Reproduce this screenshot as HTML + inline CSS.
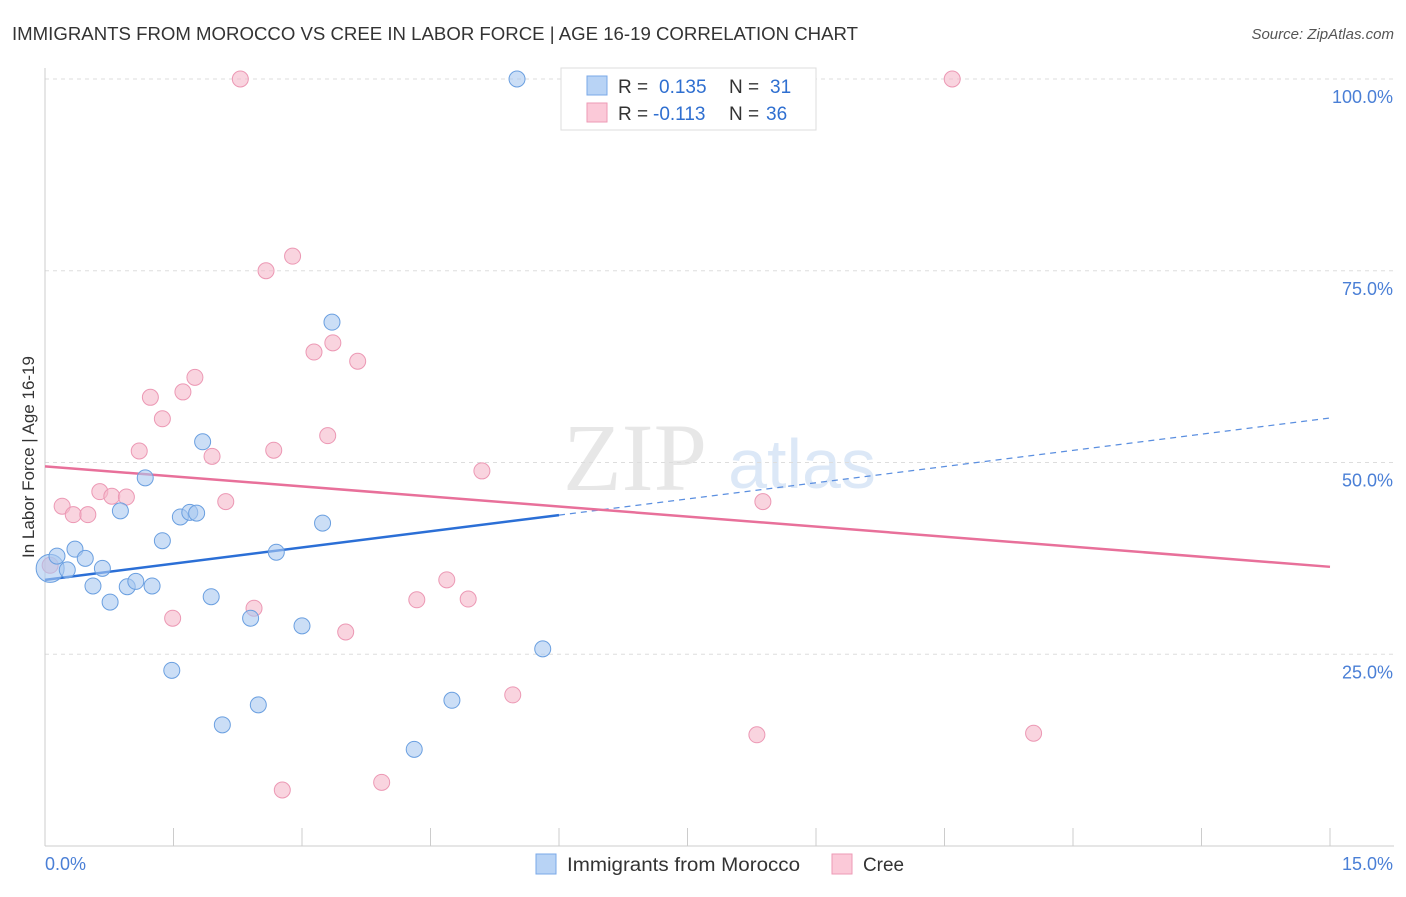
<!DOCTYPE html>
<html><head><meta charset="utf-8"><style>
body{margin:0;background:#fff;font-family:"Liberation Sans",sans-serif;}
</style></head><body>
<svg id="chart" width="1406" height="892" xmlns="http://www.w3.org/2000/svg" font-family="Liberation Sans, sans-serif">
<text x="12" y="40" font-size="18" fill="#333" textLength="846" lengthAdjust="spacingAndGlyphs">IMMIGRANTS FROM MOROCCO VS CREE IN LABOR FORCE | AGE 16-19 CORRELATION CHART</text>
<text x="1394" y="39" font-size="15" fill="#555" font-style="italic" text-anchor="end">Source: ZipAtlas.com</text>
<text transform="translate(34,457) rotate(-90)" font-size="17" fill="#333" text-anchor="middle">In Labor Force | Age 16-19</text>
<g opacity="0.35">
<text x="635" y="490" font-size="96" font-family="Liberation Serif, serif" fill="#bbb" text-anchor="middle">ZIP</text>
<text x="802" y="488" font-size="70" fill="#9cc0ea" text-anchor="middle">atlas</text>
</g>
<g id="grid"></g><g id="axes"></g><g id="trends"></g><g id="points"></g>
<g>
<rect x="561" y="68" width="255" height="62" fill="#fff" stroke="#ddd"/>
<rect x="587" y="76" width="20" height="19" fill="#b8d3f5" stroke="#7aa8e8"/>
<rect x="587" y="103" width="20" height="19" fill="#fbc9d8" stroke="#ee9ab6"/>
<text x="618" y="93" font-size="19" fill="#333">R =</text>
<text x="659" y="93" font-size="19" fill="#2f6fd0">0.135</text>
<text x="729" y="93" font-size="19" fill="#333">N =</text>
<text x="770" y="93" font-size="19" fill="#2f6fd0">31</text>
<text x="618" y="120" font-size="19" fill="#333">R =</text>
<text x="653" y="120" font-size="19" fill="#2f6fd0">-0.113</text>
<text x="729" y="120" font-size="19" fill="#333">N =</text>
<text x="766" y="120" font-size="19" fill="#2f6fd0">36</text>
</g>
<g>
<rect x="536" y="854" width="20" height="20" fill="#b8d3f5" stroke="#7aa8e8"/>
<text x="567" y="871" font-size="19" fill="#333" textLength="233" lengthAdjust="spacingAndGlyphs">Immigrants from Morocco</text>
<rect x="832" y="854" width="20" height="20" fill="#fbc9d8" stroke="#ee9ab6"/>
<text x="863" y="871" font-size="19" fill="#333" textLength="41" lengthAdjust="spacingAndGlyphs">Cree</text>
</g>
</svg>
<script>
const blueX=[0.06,0.14,0.26,0.35,0.47,0.56,0.67,0.76,0.88,0.96,1.06,1.17,1.25,1.37,1.48,1.58,1.69,1.77,1.84,1.94,2.07,2.40,2.49,2.70,3.00,3.24,3.35,4.31,4.75,5.51,5.81];
const blueY=[36.2,37.8,36.0,38.7,37.5,33.9,36.2,31.8,43.7,33.8,34.5,48.0,33.9,39.8,22.9,42.9,43.5,43.4,52.7,32.5,15.8,29.7,18.4,38.3,28.7,42.1,68.3,12.6,19.0,100,25.7];
const pinkX=[0.06,0.20,0.33,0.50,0.64,0.78,0.95,1.10,1.23,1.37,1.49,1.61,1.75,1.95,2.11,2.28,2.44,2.58,2.67,2.77,2.89,3.14,3.30,3.36,3.51,3.65,3.93,4.34,4.69,4.94,5.10,5.46,8.31,8.38,10.59,11.54];
const pinkY=[36.6,44.3,43.2,43.2,46.2,45.6,45.5,51.5,58.5,55.7,29.7,59.2,61.1,50.8,44.9,100,31.0,75.0,51.6,7.3,76.9,64.4,53.5,65.6,27.9,63.2,8.3,32.1,34.7,32.2,48.9,19.7,14.5,44.9,100,14.7];
const blueTrend=[34.7,55.8];
const pinkTrend=[49.5,36.4];
const yTicks=[25,50,75,100];
const yTickLabels=["25.0%","50.0%","75.0%","100.0%"];
const ns="http://www.w3.org/2000/svg";
const sx=v=>45+v/15*1285, sy=v=>846-v/100*767;
function mk(p,t,a){const e=document.createElementNS(ns,t);for(const k in a)e.setAttribute(k,a[k]);p.appendChild(e);return e;}
const grid=document.getElementById('grid'),axes=document.getElementById('axes'),tr=document.getElementById('trends'),pts=document.getElementById('points');
yTicks.forEach((v,i)=>{
 const l=mk(grid,'line',{x1:45,x2:1394,y1:sy(v),y2:sy(v),stroke:'#ddd','stroke-dasharray':'4,4'});
 
 
 const t=mk(axes,'text',{x:1393,y:sy(v)+24,'font-size':18,fill:'#4a7fd6','text-anchor':'end'});t.textContent=yTickLabels[i];
 
 
});
let a=mk(axes,'line',{x1:45,x2:45,y1:68,y2:846,stroke:'#ccc'});


a=mk(axes,'line',{x1:45,x2:1394,y1:846,y2:846,stroke:'#ccc'});


for(let i=0;i<=10;i++){const t=mk(axes,'line',{x1:sx(i*1.5),x2:sx(i*1.5),y1:828,y2:846,stroke:'#ccc'});
 
 }
let xl=mk(axes,'text',{x:45,y:870,'font-size':18,fill:'#4a7fd6'});xl.textContent='0.0%';


xl=mk(axes,'text',{x:1393,y:870,'font-size':18,fill:'#4a7fd6','text-anchor':'end'});xl.textContent='15.0%';


const bAt=x=>blueTrend[0]+(blueTrend[1]-blueTrend[0])*x/15;
let t=mk(tr,'line',{x1:sx(0),y1:sy(bAt(0)),x2:sx(6),y2:sy(bAt(6)),stroke:'#2b6fd6','stroke-width':2.5});


t=mk(tr,'line',{x1:sx(6),y1:sy(bAt(6)),x2:sx(15),y2:sy(bAt(15)),stroke:'#5b8fe0','stroke-width':1.2,'stroke-dasharray':'6,5'});


t=mk(tr,'line',{x1:sx(0),y1:sy(pinkTrend[0]),x2:sx(15),y2:sy(pinkTrend[1]),stroke:'#e8709a','stroke-width':2.5});


pinkX.forEach((x,i)=>{const c=mk(pts,'circle',{cx:sx(x),cy:sy(pinkY[i]),r:8,fill:'rgba(245,184,202,0.6)',stroke:'#ec98b4','stroke-width':1});
 
 });
blueX.forEach((x,i)=>{const c=mk(pts,'circle',{cx:sx(x),cy:sy(blueY[i]),r:i==0?14:8,fill:'rgba(168,200,240,0.6)',stroke:'#6a9fe0','stroke-width':1});
 
 });
</script>
</body></html>
